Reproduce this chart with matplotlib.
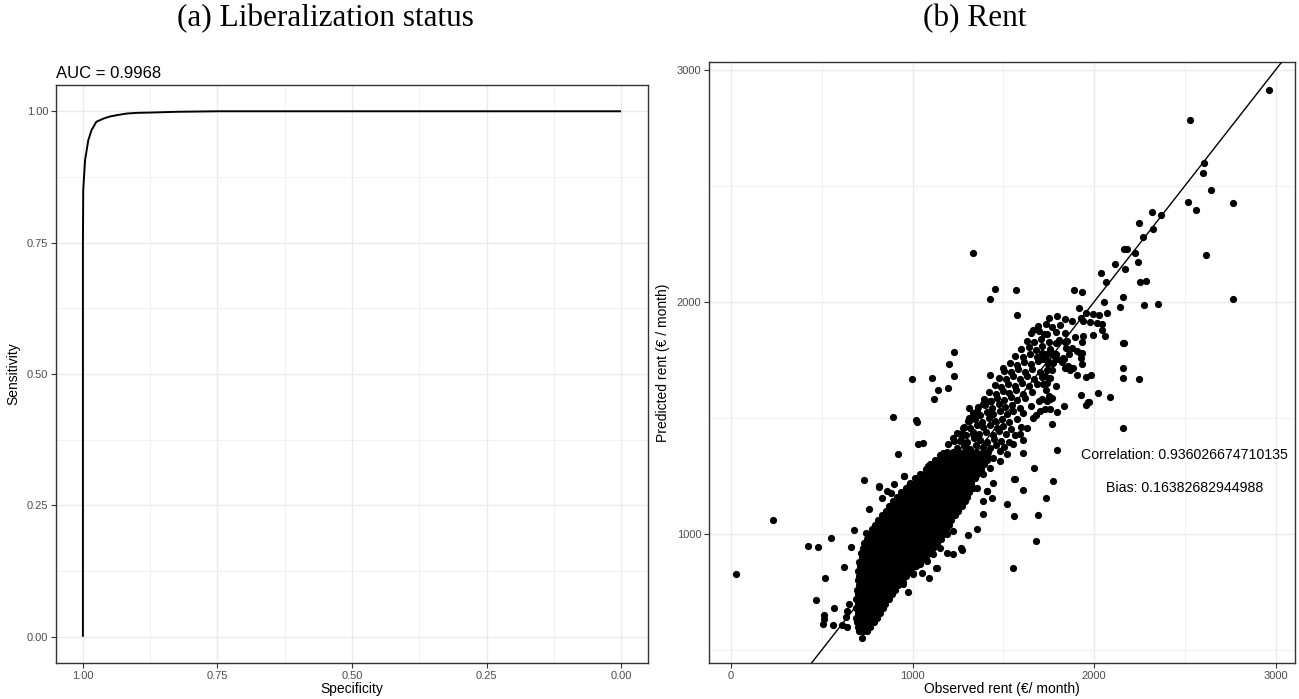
import matplotlib
matplotlib.use("Agg")
import matplotlib.pyplot as plt
import numpy as np

plt.rcParams['font.family'] = ['Liberation Sans', 'DejaVu Sans']

# ---------------- Panel (a): ROC curve ----------------
roc_specificity = [1.0, 1.0, 0.9994, 0.996, 0.990, 0.984, 0.975, 0.962, 0.950, 0.935,
                   0.919, 0.900, 0.876, 0.826, 0.75, 0.5, 0.25, 0.0]
roc_sensitivity = [0.0, 0.75, 0.850, 0.907, 0.945, 0.964, 0.980, 0.986, 0.990, 0.993,
                   0.9956, 0.997, 0.9975, 0.999, 1.0, 1.0, 1.0, 1.0]
roc_ticks = [1.00, 0.75, 0.50, 0.25, 0.00]
auc_label = "AUC = 0.9968"

# ---------------- Panel (b): rent scatter ----------------
outlier_x = [2964, 2527, 2606, 2599, 2646, 2520, 2766, 2562, 2615, 2768,
             2318, 2369, 2246, 2327, 2270, 2165, 2180, 2224, 2118, 2241, 2171, 2039, 2066, 2252, 2285,
             1890, 1932, 2162, 2057, 2145, 2275, 2351, 1916, 1956, 1996, 2029, 2070, 1879, 1927, 1941,
             1978, 2015, 2046, 1725, 1789, 1839, 1850, 1895, 1941, 1996, 2044, 2061, 1934, 1880, 1908,
             1932, 2158, 2165, 1712, 1739, 1767, 1791, 1721, 1748, 1776, 1798, 1836, 1840, 1868, 1927,
             1936, 1925, 1743, 1730, 1758, 1739, 1717, 1904, 1956, 1985, 2158, 2158, 2246, 2024, 2088,
             1927, 1954, 1972, 1712, 1754, 1767, 1730, 1758, 1798, 1835, 1767, 2162, 1796, 1828, 1858,
             1335, 1456, 1427, 1570, 1576, 1969, 1671, 1772, 1611, 1565, 1607,
             997, 1109, 1139, 1118, 1203, 1227, 1229, 1196, 1429, 1311, 1311, 891, 1019, 1023, 1032,
             1060, 922, 953, 1497, 1666, 1559, 1690, 1607, 1736, 1559, 1519, 1680, 1552, 1387, 1354,
             1308, 1265, 1273, 1225, 1188, 1131, 1089, 1051, 1005, 977, 944, 823, 770, 723, 1436, 1409,
             26, 233, 426, 481, 549, 623, 520, 468, 567, 512, 512, 509, 564, 613, 637, 632, 641, 650,
             676, 661, 733, 760, 745, 819, 806, 948, 1133, 815]
outlier_y = [2912, 2783, 2600, 2555, 2484, 2431, 2428, 2398, 2204, 2014,
             2388, 2376, 2339, 2313, 2280, 2228, 2228, 2213, 2163, 2174, 2144, 2126, 2086, 2085, 2089,
             2053, 2044, 2023, 1999, 1977, 1986, 1991, 1973, 1951, 1947, 1945, 1954, 1918, 1932, 1918,
             1915, 1908, 1906, 1861, 1825, 1829, 1832, 1850, 1852, 1858, 1878, 1855, 1829, 1802, 1789,
             1781, 1825, 1822, 1781, 1777, 1781, 1777, 1753, 1746, 1738, 1753, 1753, 1717, 1707, 1760,
             1731, 1781, 1706, 1681, 1674, 1652, 1645, 1684, 1677, 1685, 1717, 1674, 1668, 1609, 1592,
             1599, 1556, 1570, 1581, 1594, 1585, 1538, 1540, 1527, 1552, 1475, 1457, 1361, 1760, 1724,
             2210, 2057, 2013, 2052, 1944, 1569, 1286, 1228, 1350, 1238, 1404,
             1668, 1671, 1619, 1582, 1731, 1786, 1681, 1631, 1684, 1544, 1501, 1506, 1491, 1484, 1387,
             1392, 1344, 1249, 1714, 1878, 1079, 1081, 1188, 1156, 1238, 1131, 970, 855, 1085, 1023,
             994, 941, 930, 913, 917, 855, 812, 833, 831, 750, 797, 718, 647, 553, 1157, 1185,
             829, 1062, 947, 943, 984, 859, 812, 716, 682, 650, 632, 613, 606, 606, 599, 642, 668, 697,
             1017, 944, 1231, 1106, 1003, 682, 719, 794, 853, 1203]

edge_x = [815, 830, 858, 900, 880, 931, 953, 981, 913, 940, 982, 1032, 1087, 1096, 1142, 1152,
          1188, 1225, 1262, 1298, 1280, 1335, 1262, 1298, 1335, 1243, 1225, 1188, 1225, 1152, 1115,
          1078, 1041, 1390, 1427, 1445, 1482, 1354, 1409, 1445, 1390, 1005, 950, 894, 1005, 931,
          821, 784, 858, 784, 1170, 1197, 1225, 1243, 1280, 1308, 1335, 1354, 1390, 1427,
          1482, 1519, 1555, 1592, 1629, 1666, 1703, 1739]
edge_y = [1207, 1157, 1185, 1214, 1178, 1157, 1250, 1207, 1142, 1113, 1142, 1221, 1293, 1257, 1300, 1272,
          1350, 1329, 1401, 1372, 1430, 1430, 1157, 1185, 1200, 1113, 1085, 999, 1013, 941, 912,
          884, 869, 1257, 1286, 1329, 1358, 1200, 1185, 1221, 1142, 826, 783, 769, 884, 841,
          754, 740, 783, 704, 1350, 1387, 1415, 1437, 1458, 1487, 1509, 1530, 1559, 1573,
          1315, 1344, 1387, 1430, 1458, 1501, 1530, 1573]

# upper band of observations along the diagonal
band_x = [1245, 1281, 1318, 1352, 1390, 1426, 1462, 1505,
          1228, 1266, 1302, 1337, 1373, 1409, 1447, 1488, 1534,
          1262, 1297, 1333, 1369, 1404, 1441, 1478, 1516, 1562,
          1283, 1318, 1356, 1391, 1426, 1463, 1499, 1540, 1598,
          1312, 1347, 1384, 1419, 1456, 1494, 1531, 1575,
          1335, 1372, 1409, 1444, 1481, 1519, 1556, 1608, 1683,
          1363, 1402, 1438, 1476, 1511, 1549, 1590, 1652,
          1394, 1431, 1468, 1504, 1541, 1578, 1622, 1695, 1760,
          1423, 1461, 1497, 1534, 1571, 1610, 1660, 1735,
          1452, 1489, 1527, 1563, 1601, 1640, 1688, 1790,
          1477, 1516, 1553, 1591, 1629, 1671, 1716,
          1505, 1544, 1583, 1620, 1660, 1703, 1771, 1885,
          1536, 1575, 1612, 1651, 1692, 1748, 1822,
          1567, 1606, 1645, 1685, 1722, 1781, 1863,
          1598, 1640, 1679, 1716, 1757, 1848,
          1629, 1668, 1710, 1751, 1806,
          1652, 1699, 1740, 1792, 1838,
          1690, 1733, 1771, 1812,
          1751, 1795, 1842]
band_y = [1372, 1380, 1368, 1385, 1377, 1369, 1383, 1374,
          1401, 1407, 1398, 1412, 1403, 1396, 1410, 1401, 1395,
          1433, 1426, 1441, 1430, 1438, 1425, 1444, 1432, 1428,
          1462, 1455, 1468, 1459, 1471, 1457, 1466, 1452, 1463,
          1489, 1496, 1484, 1499, 1487, 1495, 1483, 1497,
          1521, 1514, 1527, 1518, 1531, 1516, 1529, 1520, 1512,
          1548, 1556, 1545, 1559, 1547, 1558, 1544, 1551,
          1581, 1574, 1588, 1577, 1590, 1579, 1586, 1575, 1583,
          1611, 1603, 1617, 1606, 1619, 1605, 1613, 1620,
          1641, 1634, 1648, 1637, 1650, 1636, 1645, 1639,
          1672, 1666, 1679, 1668, 1681, 1667, 1676,
          1703, 1697, 1711, 1700, 1713, 1698, 1708, 1716,
          1736, 1729, 1742, 1731, 1745, 1733, 1741,
          1767, 1761, 1774, 1763, 1777, 1769, 1776,
          1798, 1806, 1793, 1808, 1796, 1803,
          1833, 1826, 1840, 1829, 1836,
          1866, 1873, 1861, 1870, 1864,
          1897, 1905, 1893, 1902,
          1931, 1940, 1928]

# dense core of observations: predicted rent level -> observed rents
core_rows = {
    580: [708, 730, 748],
    600: [700, 722, 745, 765],
    620: [695, 720, 745, 768, 790],
    640: [690, 712, 736, 760, 783, 805],
    660: [700, 724, 748, 772, 796, 820],
    680: [690, 714, 738, 762, 786, 810, 835],
    700: [700, 724, 748, 772, 796, 820, 846],
    720: [690, 714, 738, 762, 786, 810, 834, 858, 872],
    740: [702, 726, 750, 774, 798, 822, 846, 870, 886],
    760: [695, 719, 743, 767, 791, 815, 839, 863, 887, 902],
    780: [705, 729, 753, 777, 801, 825, 849, 873, 897, 920],
    800: [698, 722, 746, 770, 794, 818, 842, 866, 890, 914, 940],
    820: [708, 732, 756, 780, 804, 828, 852, 876, 900, 924, 948, 962],
    840: [702, 726, 750, 774, 798, 822, 846, 870, 894, 918, 942, 966, 985],
    860: [712, 736, 760, 784, 808, 832, 856, 880, 904, 928, 952, 976, 1000, 1020],
    880: [708, 730, 754, 778, 802, 826, 850, 874, 898, 922, 946, 970, 994, 1018, 1040],
    900: [720, 744, 768, 792, 816, 840, 864, 888, 912, 936, 960, 984, 1008, 1032, 1056, 1075],
    920: [718, 740, 764, 788, 812, 836, 860, 884, 908, 932, 956, 980, 1004, 1028, 1052, 1078, 1098],
    940: [730, 754, 778, 802, 826, 850, 874, 898, 922, 946, 970, 994, 1018, 1042, 1066, 1090, 1114],
    960: [735, 758, 782, 806, 830, 854, 878, 902, 926, 950, 974, 998, 1022, 1046, 1070, 1094, 1118, 1136],
    980: [750, 774, 798, 822, 846, 870, 894, 918, 942, 966, 990, 1014, 1038, 1062, 1086, 1110, 1134, 1156],
    1000: [760, 784, 808, 832, 856, 880, 904, 928, 952, 976, 1000, 1024, 1048, 1072, 1096, 1120, 1144, 1170],
    1020: [778, 802, 826, 850, 874, 898, 922, 946, 970, 994, 1018, 1042, 1066, 1090, 1114, 1138, 1162, 1186],
    1040: [792, 816, 840, 864, 888, 912, 936, 960, 984, 1008, 1032, 1056, 1080, 1104, 1128, 1152, 1176, 1200],
    1060: [812, 836, 860, 884, 908, 932, 956, 980, 1004, 1028, 1052, 1076, 1100, 1124, 1148, 1172, 1196, 1214],
    1080: [832, 856, 880, 904, 928, 952, 976, 1000, 1024, 1048, 1072, 1096, 1120, 1144, 1168, 1192, 1216, 1232],
    1100: [852, 876, 900, 924, 948, 972, 996, 1020, 1044, 1068, 1092, 1116, 1140, 1164, 1188, 1212, 1236, 1252],
    1120: [872, 896, 920, 944, 968, 992, 1016, 1040, 1064, 1088, 1112, 1136, 1160, 1184, 1208, 1232, 1256, 1270],
    1140: [890, 914, 938, 962, 986, 1010, 1034, 1058, 1082, 1106, 1130, 1154, 1178, 1202, 1226, 1250, 1274, 1290],
    1160: [912, 936, 960, 984, 1008, 1032, 1056, 1080, 1104, 1128, 1152, 1176, 1200, 1224, 1248, 1272, 1298],
    1180: [938, 962, 986, 1010, 1034, 1058, 1082, 1106, 1130, 1154, 1178, 1202, 1226, 1250, 1274, 1298, 1312],
    1200: [962, 986, 1010, 1034, 1058, 1082, 1106, 1130, 1154, 1178, 1202, 1226, 1250, 1274, 1298, 1322],
    1220: [988, 1012, 1036, 1060, 1084, 1108, 1132, 1156, 1180, 1204, 1228, 1252, 1276, 1300, 1324],
    1240: [1012, 1036, 1060, 1084, 1108, 1132, 1156, 1180, 1204, 1228, 1252, 1276, 1300, 1324, 1346],
    1260: [1042, 1066, 1090, 1114, 1138, 1162, 1186, 1210, 1234, 1258, 1282, 1306, 1330, 1358],
    1280: [1072, 1096, 1120, 1144, 1168, 1192, 1216, 1240, 1264, 1288, 1312, 1336, 1360, 1378],
    1300: [1098, 1122, 1146, 1170, 1194, 1218, 1242, 1266, 1290, 1314, 1338, 1362, 1392],
    1320: [1124, 1148, 1172, 1196, 1220, 1244, 1268, 1292, 1316, 1340, 1364, 1388, 1410],
    1340: [1150, 1176, 1202, 1228, 1254, 1280, 1306, 1332, 1358, 1384, 1410],
    1355: [1190, 1222, 1256, 1288, 1320, 1352, 1386, 1418],
}

rent_ticks = [0, 1000, 2000, 3000]
rent_minor = [500, 1500, 2500]
correlation_text = "Correlation: 0.936026674710135"
bias_text = "Bias: 0.16382682944988"

# assemble scatter arrays
obs = list(outlier_x) + list(edge_x) + list(band_x)
pred = list(outlier_y) + list(edge_y) + list(band_y)
for yv, xs in core_rows.items():
    obs += xs
    pred += [yv] * len(xs)

# ---------------- Figure ----------------
W, H = 1299, 699
fig = plt.figure(figsize=(W / 100, H / 100), dpi=100)
fig.patch.set_facecolor('white')

grid_col = '#EBEBEB'
border_col = '#333333'
tick_col = '#4D4D4D'


def style_axes(ax):
    for s in ax.spines.values():
        s.set_color(border_col)
        s.set_linewidth(1.0)
    ax.tick_params(axis='both', which='major', length=3.5, width=0.8, color=border_col,
                   labelsize=8, labelcolor=tick_col, pad=2)
    ax.tick_params(axis='both', which='minor', length=0)
    ax.grid(True, which='major', color=grid_col, linewidth=1.0, zorder=0)
    ax.grid(True, which='minor', color=grid_col, linewidth=0.5, zorder=0)
    ax.set_axisbelow(True)


def fx(px):
    return px / W


def fy(py):
    return 1 - py / H


# left axes: px 56..648, py 85..663
ax1 = fig.add_axes([fx(56), fy(663), (648 - 56) / W, (663 - 85) / H])
ax1.plot(roc_specificity, roc_sensitivity, color='black', lw=1.4, solid_capstyle='butt')
ax1.set_xlim(1.05, -0.05)
ax1.set_ylim(-0.05, 1.05)
ax1.set_xticks(roc_ticks)
ax1.set_xticklabels([f"{t:.2f}" for t in roc_ticks])
ax1.set_yticks(roc_ticks)
ax1.set_yticklabels([f"{t:.2f}" for t in roc_ticks])
ax1.set_xticks([0.875, 0.625, 0.375, 0.125], minor=True)
ax1.set_yticks([0.875, 0.625, 0.375, 0.125], minor=True)
style_axes(ax1)
ax1.set_xlabel("Specificity", fontsize=10, labelpad=1)
ax1.set_ylabel("Sensitivity", fontsize=10, labelpad=5)
ax1.set_title(auc_label, loc='left', fontsize=12, pad=5)

# right axes: px 709..1295, py 62..663
ax2 = fig.add_axes([fx(709), fy(663), (1295 - 709) / W, (663 - 62) / H])
ax2.scatter(obs, pred, s=27, color='black', linewidths=0, zorder=3)
ax2.axline((0, 0), slope=1, color='black', lw=1.0, zorder=4)
ax2.set_xlim(-121, 3107)
ax2.set_ylim(444, 3034)
ax2.set_xticks(rent_ticks)
ax2.set_yticks(rent_ticks[1:])
ax2.set_xticks(rent_minor, minor=True)
ax2.set_yticks(rent_minor, minor=True)
style_axes(ax2)
ax2.set_xlabel("Observed rent (€/ month)", fontsize=10, labelpad=1)
ax2.set_ylabel("Predicted rent (€ / month)", fontsize=10, labelpad=5)
ax2.text(2500, 1340, correlation_text, ha='center', va='center', fontsize=10.2, color='black', zorder=5)
ax2.text(2500, 1200, bias_text, ha='center', va='center', fontsize=10.2, color='black', zorder=5)

# sub-figure captions
fig.text(fx(325), fy(19), "(a) Liberalization status", ha='center', va='center',
         fontsize=22.5, family='Liberation Serif')
fig.text(fx(975), fy(19), "(b) Rent", ha='center', va='center',
         fontsize=22.5, family='Liberation Serif')

fig.savefig("out.png", dpi=100, facecolor='white')
